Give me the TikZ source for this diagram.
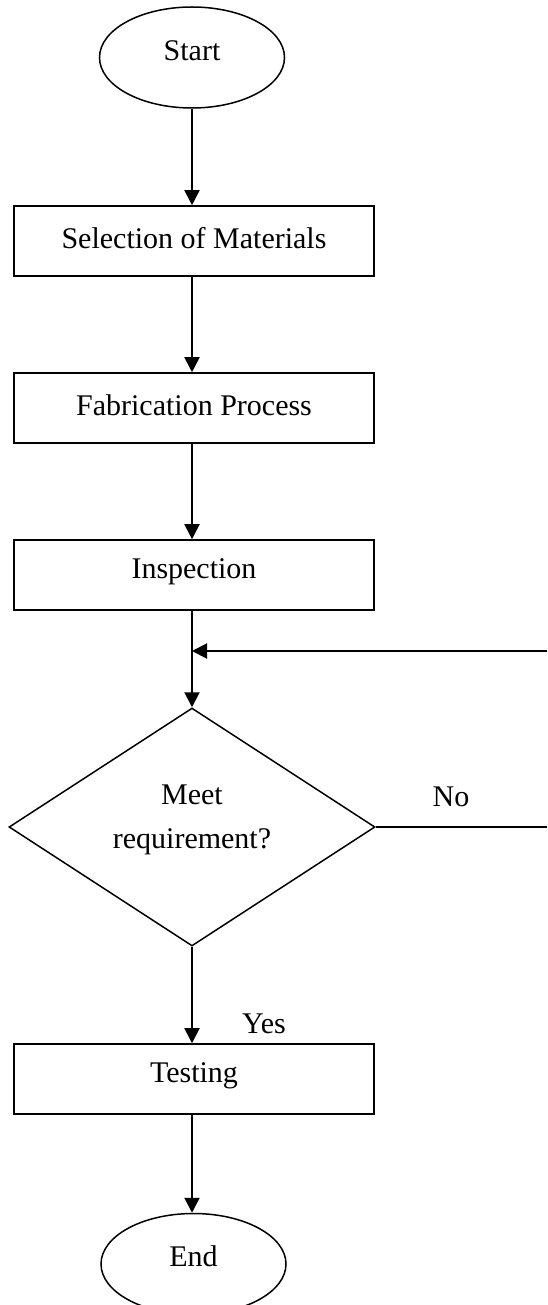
\documentclass[tikz,border=0pt]{standalone}
\usepackage{fontspec}
\setmainfont{Liberation Serif}
\usetikzlibrary{shapes.geometric,arrows.meta}
\newcommand{\upby}[2]{\raisebox{#1}[\height][\depth]{#2}}
\begin{document}
\begin{tikzpicture}[x=1pt,y=1pt,
  every node/.style={font=\fontsize{30pt}{44pt}\selectfont},
  term/.style={ellipse,draw,line width=1.5pt,minimum width=185pt,minimum height=101pt,inner sep=0pt},
  procbox/.style={rectangle,draw,line width=1.6pt,minimum width=360pt,minimum height=70pt,inner sep=0pt},
  decide/.style={diamond,aspect=1.6,draw,line width=1.5pt,minimum width=366pt,minimum height=238pt,inner sep=0pt},
  arr/.style={-{Triangle[length=15pt,width=15pt]},line width=2pt},
  plain/.style={line width=1.6pt},
  lbl/.style={inner sep=0pt}]
\useasboundingbox (0,0) rectangle (547,-1305);
\node[term] (start) at (192,-57.5) {\upby{7pt}{Start}};
\node[procbox] (sel) at (194,-241) {\upby{3pt}{Selection of Materials}};
\node[procbox] (fab) at (194,-408) {\upby{3pt}{Fabrication Process}};
\node[procbox] (ins) at (194,-575) {\upby{3pt}{Inspection}};
\node[decide] (dec) at (192,-827) {\upby{9pt}{\begin{tabular}{@{}c@{}}Meet\\requirement?\end{tabular}}};
\node[procbox] (test) at (194,-1079) {\upby{3pt}{Testing}};
\node[term] (end) at (193.5,-1264) {\upby{8pt}{End}};
\node[lbl] (no) at (451,-797) {No};
\node[lbl] (yes) at (264,-1024) {Yes};
\coordinate (loopin) at (547,-651);
\coordinate (noout) at (547,-827);
\draw[arr] (start.south) -- (start.south |- sel.north);
\draw[arr] (start.south |- sel.south) -- (start.south |- fab.north);
\draw[arr] (start.south |- fab.south) -- (start.south |- ins.north);
\draw[arr] (start.south |- ins.south) -- (dec.north);
\draw[arr] (loopin) -- (loopin -| dec.north);
\draw[plain] (dec.east) -- (noout);
\draw[arr] (dec.south) -- (dec.south |- test.north);
\draw[arr] (dec.south |- test.south) -- (dec.south |- end.north);
\end{tikzpicture}
\end{document}
